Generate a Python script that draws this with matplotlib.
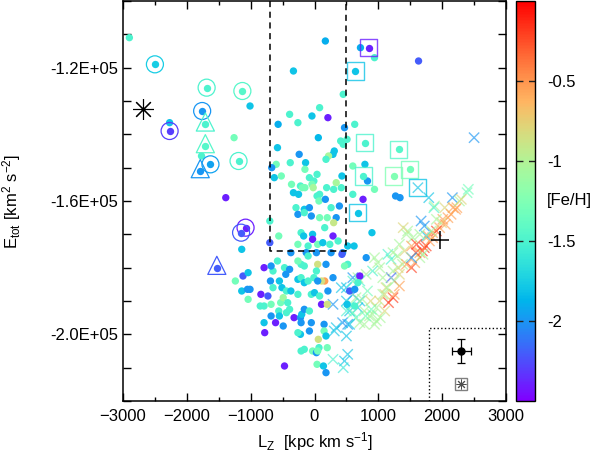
import numpy as np
import matplotlib
matplotlib.use("Agg")
import matplotlib.pyplot as plt
from matplotlib.ticker import MultipleLocator, FuncFormatter

plt.rcParams['font.family'] = ['Liberation Sans', 'DejaVu Sans']
plt.rcParams['mathtext.default'] = 'regular'

# halo stars (filled dots): Lz [kpc km/s], Etot [10^3 km^2 s^-2], [Fe/H]
halo_lz = [
    -2900, -1010, -2270, -1260, -1390, -1140, 170, -330, 450, 80,
    -390, -40, 210, -570, -260, 470, 630, 60, 410, 450,
    510, -580, 310, 290, 220, -240, 180, -380, -140, -600,
    -670, -150, 40, -80, -10, -630, -520, -360, -220, -190,
    -150, -40, -20, 190, 300, 420, 430, 340, -330, -250,
    80, 40, 70, 170, 390, 260, -290, -160, -80, -260,
    -160, -50, 80, 200, 340, 300, 160, -700, -560, -210,
    -170, -30, 290, -30, 370, -700, -260, -100, 50, 130,
    240, 520, 620, -370, -130, 30, 260, 440, 720, 940,
    1630, 830, 790, 600, 940, 760, 1270, 1340, 600, 900,
    810, 520, 710, 680, 550, 630, 510, 630, -1120, -1040,
    -1240, -1140, -1050, -1010, -1040, -840, -730, -790, -690, -650,
    -680, -580, -850, -790, -680, -530, -490, -790, -610, -680,
    -780, -490, -470, -210, -220, -30, 70, 30, 40, 140,
    180, 200, 60, -320, -470, -450, -390, -210, -260, -100,
    -160, 50, 180, 160, 110, 290, 430, 470, -550, -510,
    -260, -210, -160, -100, -10, 30, 50, -650, -440, -370,
    -260, -50, 0, 80, 210, 110, 200, -420, -390, -440,
    -560, -550, -220, -200, -160, -80, -210, -50, -260, -80,
    150, 150, 180, -160, 50, -1770]
halo_e = [
    -111, -131.5, -136.5, -141, -159, -174.5, -112, -121, -128, -132,
    -134, -134.5, -135, -137, -136.5, -138, -137, -141, -142, -143,
    -141.5, -144, -145, -146, -146.5, -146, -147.5, -148.5, -148.5, -149,
    -150, -150.5, -152, -153, -154, -153, -152.5, -155, -155.5, -156,
    -156, -155, -156, -156, -156.5, -156, -152.5, -154.5, -157.5, -158,
    -158, -158.5, -160, -159.5, -161.5, -162, -162, -162.5, -162, -164,
    -163.5, -164.5, -165, -165, -165, -166.5, -168, -166, -170.5, -169.5,
    -170.5, -170, -170.5, -171.5, -172, -172.5, -173, -173.5, -173, -172.5,
    -173, -173.5, -173.5, -175.5, -175.5, -175.5, -175.5, -175.5, -114, -117,
    -118, -154, -149, -149.5, -156.5, -159.5, -158.5, -159, -158, -169.5,
    -177, -179, -182.5, -184.5, -187, -186.5, -191, -191.5, -182.5, -181.5,
    -184, -187, -186.5, -186.5, -189.5, -188, -188.5, -180, -184, -181,
    -179.5, -178, -191.5, -191.5, -191, -190.5, -189, -196.5, -196.5, -194.5,
    -199.5, -197.5, -209.5, -205, -200, -205, -204, -205.5, -209, -209.5,
    -211.5, -204, -201.5, -195, -180, -182, -180.5, -179, -178, -176.5,
    -179.5, -179, -179, -184, -184, -183, -176, -179.5, -184, -186,
    -183.5, -183, -184.5, -184, -183, -181, -184, -186, -187, -187,
    -188, -188, -187.5, -188.5, -187, -191, -191, -190.5, -192.5, -193.5,
    -193, -194.5, -195, -194, -192.5, -193, -196.5, -196.5, -199.5, -199,
    -197, -199, -200.5, -204.5, -205, -146.5]
halo_feh = [
    -1.5, -1.8, -1.8, -1.3, -2.4, -1.8, -1.9, -1.8, -1.5, -1.5,
    -1.5, -1.8, -2.4, -1.9, -1.5, -2.0, -1.5, -1.85, -1.5, -1.5,
    -1.5, -1.8, -1.8, -1.8, -1.05, -2.0, -1.5, -1.5, -1.8, -1.3,
    -2.0, -1.3, -1.5, -1.5, -1.5, -1.8, -1.3, -1.3, -1.5, -1.3,
    -1.3, -1.3, -1.05, -1.5, -1.5, -1.5, -1.8, -1.05, -1.8, -1.8,
    -1.5, -1.5, -1.3, -2.0, -2.0, -1.5, -1.5, -1.8, -2.0, -2.0,
    -1.5, -2.0, -1.3, -1.3, -2.0, -0.9, -1.5, -1.5, -1.3, -1.5,
    -1.8, -1.8, -2.4, -2.4, -1.5, -2.2, -1.3, -1.5, -1.3, -1.8,
    -1.5, -1.8, -1.8, -2.0, -2.0, -2.0, -2.0, -2.0, -1.9, -1.5,
    -2.2, -2.0, -1.8, -1.3, -1.3, -2.4, -2.0, -2.0, -1.5, -1.8,
    -2.0, -1.5, -2.4, -1.5, -2.2, -2.0, -1.8, -1.5, -2.2, -1.8,
    -1.3, -1.8, -2.0, -2.0, -1.3, -2.4, -2.2, -2.4, -2.0, -1.5,
    -2.0, -1.5, -1.5, -1.5, -1.3, -1.3, -1.1, -1.8, -2.4, -2.0,
    -2.4, -2.0, -2.4, -1.5, -1.8, -1.3, -1.5, -2.0, -1.3, -1.8,
    -2.0, -1.3, -0.85, -2.4, -1.5, -2.0, -2.0, -1.5, -1.3, -1.5,
    -1.5, -0.85, -2.0, -0.55, -0.85, -2.0, -2.2, -1.3, -1.8, -1.8,
    -1.8, -1.5, -1.8, -1.5, -1.5, -1.5, -2.0, -1.5, -1.5, -1.8,
    -1.5, -1.5, -1.8, -1.5, -2.0, -2.4, -0.85, -1.5, -1.5, -1.5,
    -1.5, -1.8, -2.0, -1.8, -2.0, -1.5, -2.0, -2.0, -1.5, -2.0,
    -2.0, -1.3, -1.8, -1.5, -1.3, -1.5]

# disk stars (crosses)
disk_lz = [
    2500, 2160, 2410, 2390, 1790, 1880, 2040, 2170, 2210, 2230,
    2140, 2090, 2010, 1990, 1910, 1960, 1910, 1850, 1670, 1720,
    1850, 1780, 1750, 1720, 1690, 1650, 1750, 1700, 1650, 1870,
    1460, 1540, 1650, 1830, 1520, 1590, 1520, 1570, 1230, 1250,
    940, 990, 1150, 1200, 1520, 1330, 1230, 1440, 1380, 1310,
    1330, 1230, 1200, 1250, 1120, 1070, 1020, 970, 910, 1100,
    1020, 910, 810, 710, 600, 500, 420, 600, 710, 680,
    500, 550, 780, 860, 970, 940, 650, 710, 780, 520,
    440, 500, 520, 470, 290, 340, 310, 550, 290, 450,
    600, 680, 650, 580, 600, 500, 1410, 1300, 1070, 1140,
    830, 750, 880, 800, 1030, 1390, 2050, 2270, 2300, 1800,
    1600, 1440, 1330, 1160, 1100, 890, 1620]
disk_e = [
    -141, -159, -156.5, -157.5, -159, -161.5, -162, -162, -162.5, -162,
    -164, -165, -165.5, -166.5, -165.5, -168, -169, -169.5, -166, -167.5,
    -171, -170.5, -173.5, -174, -175, -175.5, -170.5, -176, -177, -162,
    -169, -171, -170, -169, -173.5, -175.5, -180, -178.5, -189, -188,
    -177, -178.5, -176, -177.5, -177, -173, -175.5, -170, -179, -180,
    -182, -181, -183, -184, -186, -188, -190, -192, -194, -193,
    -180, -181, -182, -184, -183, -186, -186, -188, -190, -192,
    -190, -193, -193, -194.5, -196, -197, -195, -196.5, -197, -197,
    -196.5, -200.5, -206, -208, -191, -198, -199, -197, -207.5, -210,
    -184, -183, -189, -191, -193.5, -193, -175, -176.5, -183, -186,
    -187, -189.5, -190, -194.5, -195, -168, -167, -160, -159.5, -172,
    -173, -179, -185.5, -190.5, -188, -192.5, -156]
disk_feh = [
    -2.0, -2.0, -1.3, -1.3, -1.8, -1.05, -0.8, -0.55, -0.55, -0.55,
    -0.55, -0.55, -0.55, -0.8, -1.05, -0.55, -0.2, -0.55, -2.0, -2.0,
    -0.55, -0.55, -0.2, -0.2, -0.2, -0.55, -1.8, -1.05, -1.05, -1.5,
    -1.05, -1.05, -1.05, -1.05, -0.55, -0.2, -0.2, -0.55, -0.2, -0.55,
    -1.05, -1.05, -1.5, -1.5, -2.0, -1.05, -1.05, -1.05, -1.05, -0.8,
    -0.8, -1.05, -2.2, -1.05, -0.8, -1.05, -0.8, -1.05, -1.05, -0.8,
    -1.05, -1.5, -1.05, -1.5, -2.0, -1.8, -1.8, -2.0, -1.8, -1.8,
    -1.8, -1.8, -1.05, -1.05, -1.05, -1.05, -1.5, -1.05, -1.05, -2.0,
    -2.0, -1.8, -1.8, -1.8, -2.0, -1.8, -1.8, -1.8, -1.5, -1.6,
    -1.5, -1.05, -1.05, -1.5, -1.3, -1.5, -0.8, -1.05, -1.05, -1.05,
    -1.3, -1.05, -0.8, -1.3, -1.05, -0.8, -0.55, -1.05, -0.8, -0.55,
    -0.2, -0.55, -0.55, -0.2, -0.8, -1.3, -1.8]

# stars marked with a ring
ring_lz = [-2500, -1690, -1130, -1760, -2270, -1630, -1190, -1080, -1150]
ring_e = [-119, -126, -127, -133, -139, -149, -148, -168, -169.5]
ring_feh = [-1.75, -1.5, -1.45, -2.0, -2.3, -1.95, -1.5, -2.4, -2.2]

# stars marked with a triangle
tri_lz = [-1710, -1710, -1790, -1530]
tri_e = [-137, -143.5, -151, -180]
tri_feh = [-1.5, -1.45, -2.0, -2.2]

# stars marked with a square (the sqx one is a disk star)
sq_lz = [850, 640, 790, 1320, 1490, 1240, 760, 680]
sq_e = [-114, -121, -142.5, -144.5, -150.5, -152.5, -152.5, -163.5]
sq_feh = [-2.4, -1.8, -1.5, -1.45, -1.3, -1.25, -1.5, -1.8]
sqx_lz = [1620]
sqx_e = [-156]
sqx_feh = [-1.8]

# single objects
star_lz, star_e = -2680, -132.3
plus_lz, plus_e = 1970, -171.6
err_lz, err_e, err_dlz, err_de = 2300, -205.0, 150, 3.5
sym_lz, sym_e = 2300, -215.0

# box of the selection and of the error inset
box_lz = [-700, 500]
box_e = -175.0
inset_lz, inset_e = 1800, -198.0

cmap = plt.get_cmap('rainbow')
vmin, vmax = -2.5, 0.0
norm = plt.Normalize(vmin, vmax)
k = 1e3

fig = plt.figure(figsize=(5.98, 4.55), dpi=100)
ax = fig.add_axes([123 / 598, 54 / 455, 383 / 598, 400 / 455])
cax = fig.add_axes([516 / 598, 54 / 455, 19 / 598, 400 / 455])

ax.scatter(disk_lz, np.array(disk_e) * k, c=disk_feh, cmap=cmap, norm=norm,
           marker='x', s=55, linewidths=1.0, alpha=0.65, zorder=2)
sc = ax.scatter(halo_lz, np.array(halo_e) * k, c=halo_feh, cmap=cmap, norm=norm,
                s=28, linewidths=0, zorder=3)

for lz, e, fe in zip(ring_lz, ring_e, ring_feh):
    ax.scatter(lz, e * k, color=cmap(norm(fe)), s=28, linewidths=0, zorder=3)
    ax.scatter(lz, e * k, facecolors='none', edgecolors=[cmap(norm(fe))],
               s=150, linewidths=0.9, zorder=3)
for lz, e, fe in zip(tri_lz, tri_e, tri_feh):
    ax.scatter(lz, e * k, color=cmap(norm(fe)), s=28, linewidths=0, zorder=3)
    ax.scatter(lz, e * k + 700, marker='^', facecolors='none',
               edgecolors=[cmap(norm(fe))], s=170, linewidths=0.9, zorder=3)
for lz, e, fe in zip(sq_lz, sq_e, sq_feh):
    ax.scatter(lz, e * k, color=cmap(norm(fe)), s=28, linewidths=0, zorder=3)
for lz, e, fe in zip(sq_lz + sqx_lz, sq_e + sqx_e, sq_feh + sqx_feh):
    ax.scatter(lz, e * k, marker='s', facecolors='none',
               edgecolors=[cmap(norm(fe))], alpha=0.8, s=150, linewidths=1.0, zorder=3)

ax.plot(star_lz, star_e * k, marker=(8, 2, 0), ms=15, mew=0.8, color='k', zorder=4)
ax.plot(plus_lz, plus_e * k, marker='+', ms=13, mew=1.1, color='k', zorder=4)

# selection box
ax.plot([box_lz[0], box_lz[0], box_lz[1], box_lz[1]], [-100 * k, box_e * k, box_e * k, -100 * k],
        color='k', ls=(0, (4, 3)), lw=1.1, zorder=5)

# error inset
ax.plot([inset_lz, inset_lz, 3000], [-220 * k, inset_e * k, inset_e * k],
        color='k', ls=':', lw=1.0, zorder=5)
ax.errorbar(err_lz, err_e * k, xerr=err_dlz, yerr=err_de * k, fmt='o', color='k',
            ms=5, capsize=3, elinewidth=0.9, capthick=0.9, zorder=5)
ax.plot(sym_lz, sym_e * k, marker='s', ms=8, mfc='none', mec='0.5', mew=1.0, zorder=5)
ax.plot(sym_lz, sym_e * k, marker=(8, 2, 0), ms=7, mew=0.7, color='0.3', zorder=5)

ax.set_xlim(-3000, 3000)
ax.set_ylim(-220 * k, -100 * k)
ax.xaxis.set_major_locator(MultipleLocator(1000))
ax.xaxis.set_minor_locator(MultipleLocator(500))
ax.yaxis.set_major_locator(MultipleLocator(10 * k))


def ylab(v, pos):
    if round(v / k) in (-120, -160, -200):
        return f"{v:.1E}"
    return ""


ax.yaxis.set_major_formatter(FuncFormatter(ylab))
ax.tick_params(which='both', direction='in', top=True, right=True, labelsize=12, width=1)
ax.tick_params(which='major', length=6)
ax.tick_params(which='minor', length=3)
ax.tick_params(axis='x', pad=6)
for s in ax.spines.values():
    s.set_linewidth(1.1)

ax.set_xlabel(r"L$_Z$  [kpc km s$^{-1}$]", fontsize=12, labelpad=4)
ax.set_ylabel(r"E$_{tot}$ [km$^2$ s$^{-2}$]", fontsize=12)
ax.yaxis.set_label_coords(-0.262, 0.5)

cb = fig.colorbar(sc, cax=cax, ticks=[-2, -1.5, -1, -0.5])
cb.ax.set_yticklabels(['-2', '-1.5', '-1', '-0.5'])
cb.ax.tick_params(length=0, labelsize=12, pad=9)
cb.outline.set_linewidth(1.0)
for t in [-2, -1.5, -1, -0.5]:
    cb.ax.axhline(t, color='#222222', ls=(0, (5, 4)), lw=1.0)
cb.ax.text(1.65, -1.25, "[Fe/H]", transform=cb.ax.get_yaxis_transform(),
           fontsize=12, va='center', ha='left')

fig.savefig("out.png", dpi=100)
